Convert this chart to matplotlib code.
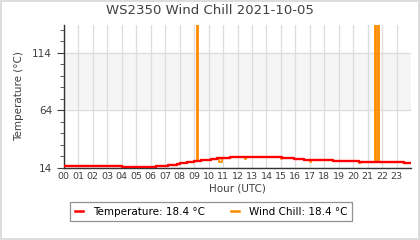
"""
WS2350 wind chill for one day, step lines over a banded grid.
"""
import matplotlib
matplotlib.use('Agg')
import matplotlib.pyplot as plt
from matplotlib.ticker import MultipleLocator, FixedLocator

# hour breakpoints (UTC) and readings, drawn as post steps
temp_hours = [0, 4.05, 6.4, 7.2, 7.8, 8.0, 8.5, 9.0, 9.5, 10.2, 10.6, 11.45,
              15.1, 15.9, 16.6, 18.6, 20.4, 23.5, 24.0]
temp_vals = [15.7, 14.9, 15.7, 16.9, 17.2, 18.3, 19.2, 20.1, 20.9, 21.8, 22.7,
             23.5, 22.7, 21.8, 20.9, 20.1, 19.2, 18.3, 18.3]

wc_hours = [0, 4.05, 6.4, 7.2, 7.8, 8.0, 8.5, 9.0, 9.17, 9.24, 9.5, 10.2, 10.6,
            10.75, 10.9, 11.45, 12.5, 12.6, 15.0, 15.1, 15.9, 16.6, 17.0, 17.08,
            18.6, 20.4, 20.55, 21.51, 21.54, 21.74, 21.77, 23.5, 24.0]
wc_vals = [15.7, 14.9, 15.7, 16.9, 17.2, 18.3, 19.2, 20.1, 180, 20.1, 20.9,
           21.8, 22.7, 19.2, 22.7, 23.5, 21.8, 23.5, 21.8, 22.7, 21.8, 20.9,
           19.2, 20.9, 20.1, 18.3, 19.2, 180, 19.2, 180, 19.2, 18.3, 18.3]

hour_labels = [f'{h:02d}' for h in range(24)]
y_major = [14, 64, 114]
current_temp = 18.4
current_wc = 18.4

TXT = '#404040'

fig = plt.figure(figsize=(4.2, 2.4), dpi=100)
fig.patch.set_edgecolor('#dddddd')
fig.patch.set_linewidth(1.5)
ax = fig.add_axes([0.152, 0.30, 0.827, 0.596])

# alternating band between the middle gridlines
ax.axhspan(64, 114, color='#f5f5f5', zorder=0)

ax.step(wc_hours, wc_vals, where='post', color='#ff8c00', lw=1.3,
        label=f'Wind Chill: {current_wc} °C', zorder=2)
ax.step(temp_hours, temp_vals, where='post', color='#ff0000', lw=1.7,
        label=f'Temperature: {current_temp} °C', zorder=3)

ax.set_xlim(0, 24)
ax.set_ylim(14, 138)
ax.set_xticks(range(24))
ax.set_xticklabels(hour_labels)
ax.yaxis.set_major_locator(FixedLocator(y_major))
ax.yaxis.set_minor_locator(MultipleLocator(10, offset=4))

ax.grid(True, which='major', color='#dddddd', lw=0.9, zorder=1)
ax.set_axisbelow(True)
for side in ('top', 'right'):
    ax.spines[side].set_visible(False)
for side in ('left', 'bottom'):
    ax.spines[side].set_color('#333333')
    ax.spines[side].set_linewidth(1)

ax.tick_params(axis='x', length=0, pad=3, labelsize=6.8, colors=TXT)
ax.tick_params(axis='y', which='major', length=5, labelsize=7.5, colors=TXT)
ax.tick_params(axis='y', which='minor', length=3, colors=TXT)

ax.set_xlabel('Hour (UTC)', fontsize=7.5, color=TXT, labelpad=2)
ax.set_ylabel('Temperature (°C)', fontsize=7.5, color=TXT, labelpad=6)
fig.suptitle('WS2350 Wind Chill 2021-10-05', fontsize=9.5, color=TXT,
             y=0.985, va='top')

handles, labels = ax.get_legend_handles_labels()
leg = fig.legend(handles[::-1], labels[::-1], loc='center',
                 bbox_to_anchor=(0.503, 0.118), ncol=2, fontsize=7.5,
                 frameon=True, fancybox=False, handlelength=0.8,
                 columnspacing=2.4, borderpad=0.45, handletextpad=1.0)
leg.get_frame().set_edgecolor('#777777')
leg.get_frame().set_linewidth(0.9)
for line in leg.get_lines():
    line.set_linewidth(1.8)

fig.savefig('out.png', dpi=100)
